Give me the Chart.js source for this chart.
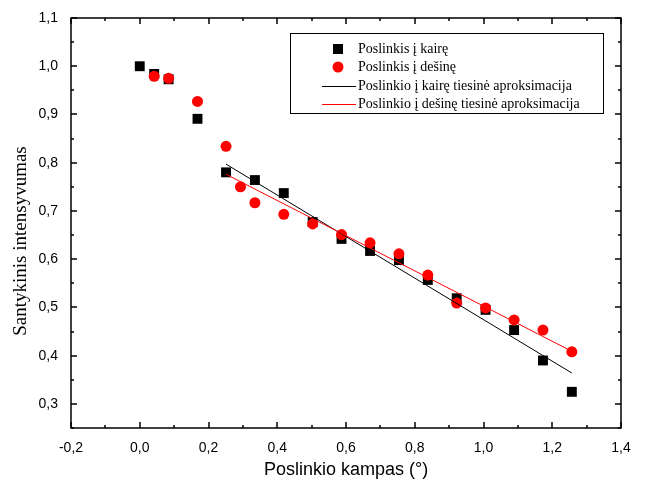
<!DOCTYPE html>
<html>
<head>
<meta charset="utf-8">
<script src="https://cdn.jsdelivr.net/npm/chart.js@4.4.1/dist/chart.umd.min.js"></script>
<style>
  html, body { margin: 0; padding: 0; background: #fff; }
</style>
</head>
<body>
<canvas id="chart" width="646" height="485"></canvas>
<script>
// values
const leftX = [0, 0.042, 0.084, 0.168, 0.251, 0.335, 0.419, 0.503, 0.587, 0.670, 0.754, 0.838, 0.922, 1.006, 1.089, 1.173, 1.257];
const leftY = [1.0, 0.984, 0.973, 0.891, 0.780, 0.764, 0.737, 0.677, 0.642, 0.617, 0.598, 0.557, 0.519, 0.495, 0.453, 0.390, 0.325];
const rightX = [0.042, 0.084, 0.168, 0.251, 0.293, 0.335, 0.419, 0.503, 0.587, 0.670, 0.754, 0.838, 0.922, 1.006, 1.089, 1.173, 1.257];
const rightY = [0.979, 0.975, 0.927, 0.834, 0.750, 0.717, 0.693, 0.673, 0.651, 0.634, 0.611, 0.567, 0.509, 0.499, 0.474, 0.453, 0.408];
const fitX = [0.251, 1.257];
const fitLeftY = [0.797, 0.364];
const fitRightY = [0.776, 0.409];

const xTicks = [-0.2, 0.0, 0.2, 0.4, 0.6, 0.8, 1.0, 1.2, 1.4];
const yTicks = [0.3, 0.4, 0.5, 0.6, 0.7, 0.8, 0.9, 1.0, 1.1];

const labels = [
  "Poslinkis į kairę",
  "Poslinkis į dešinę",
  "Poslinkio į kairę tiesinė aproksimacija",
  "Poslinkio į dešinę tiesinė aproksimacija"
];

const toPts = (xs, ys) => xs.map((x, i) => ({ x: x, y: ys[i] }));
const comma = (v) => v.toFixed(1).replace(".", ",");

// box round the plot with inward ticks, like Origin does
const frameTicks = {
  id: "frameTicks",
  afterDraw(chart) {
    const ctx = chart.ctx;
    const a = chart.chartArea;
    const xs = chart.scales.x, ys = chart.scales.y;
    ctx.save();
    ctx.strokeStyle = "#000";
    ctx.lineWidth = 1.5;
    ctx.strokeRect(a.left, a.top, a.right - a.left, a.bottom - a.top);
    ctx.beginPath();
    for (let i = 0; i < xTicks.length; i++) {
      let px = Math.round(xs.getPixelForValue(xTicks[i]));
      ctx.moveTo(px, a.bottom); ctx.lineTo(px, a.bottom - 6);
      ctx.moveTo(px, a.top); ctx.lineTo(px, a.top + 6);
      if (i < xTicks.length - 1) {
        let m = Math.round(xs.getPixelForValue((xTicks[i] + xTicks[i + 1]) / 2));
        ctx.moveTo(m, a.bottom); ctx.lineTo(m, a.bottom - 3);
        ctx.moveTo(m, a.top); ctx.lineTo(m, a.top + 3);
      }
    }
    const yMinor = [0.25].concat(yTicks.slice(0, -1).map((v, i) => (v + yTicks[i + 1]) / 2));
    for (const v of yTicks) {
      let py = Math.round(ys.getPixelForValue(v));
      ctx.moveTo(a.left, py); ctx.lineTo(a.left + 6, py);
      ctx.moveTo(a.right, py); ctx.lineTo(a.right - 6, py);
    }
    for (const v of yMinor) {
      let py = Math.round(ys.getPixelForValue(v));
      ctx.moveTo(a.left, py); ctx.lineTo(a.left + 3, py);
      ctx.moveTo(a.right, py); ctx.lineTo(a.right - 3, py);
    }
    ctx.stroke();

    // y title (sits a bit below the middle in the original)
    ctx.save();
    ctx.translate(21, 241);
    ctx.rotate(-Math.PI / 2);
    ctx.fillStyle = "#000";
    ctx.font = '19px "Liberation Serif"';
    ctx.textAlign = "center";
    ctx.textBaseline = "middle";
    ctx.fillText("Santykinis intensyvumas", 0, 0);
    ctx.restore();

    // legend box
    const bx = 290, by = 33, bw = 313, bh = 80;
    ctx.lineWidth = 1;
    ctx.strokeRect(bx + 0.5, by + 0.5, bw, bh);
    ctx.font = '14px "Liberation Serif"';
    ctx.textAlign = "left";
    ctx.textBaseline = "middle";
    const rows = [49, 67, 86, 104];
    const ds = chart.data.datasets;
    ctx.fillStyle = ds[0].backgroundColor;
    ctx.fillRect(333, rows[0] - 5, 10, 10);
    ctx.fillStyle = ds[1].backgroundColor;
    ctx.beginPath(); ctx.arc(338, rows[1], 5.5, 0, Math.PI * 2); ctx.fill();
    ctx.strokeStyle = ds[2].borderColor;
    ctx.beginPath(); ctx.moveTo(322, rows[2] + 0.5); ctx.lineTo(356, rows[2] + 0.5); ctx.stroke();
    ctx.strokeStyle = ds[3].borderColor;
    ctx.beginPath(); ctx.moveTo(322, rows[3] + 0.5); ctx.lineTo(356, rows[3] + 0.5); ctx.stroke();
    ctx.fillStyle = "#000";
    for (let i = 0; i < 4; i++) {
      ctx.fillText(ds[i].label, 358, rows[i]);
    }
    ctx.restore();
  }
};

let chart = new Chart(document.getElementById("chart"), {
  type: "scatter",
  data: {
    datasets: [
      {
        label: labels[0],
        data: toPts(leftX, leftY),
        backgroundColor: "#000000",
        borderWidth: 0,
        pointStyle: "rect",
        pointRadius: 7,
        order: 4 // bottom
      },
      {
        label: labels[1],
        data: toPts(rightX, rightY),
        backgroundColor: "#ff0000",
        borderWidth: 0,
        pointStyle: "circle",
        pointRadius: 5.5,
        order: 3
      },
      {
        label: labels[2],
        type: "line",
        data: toPts(fitX, fitLeftY),
        borderColor: "#000000",
        borderWidth: 1,
        pointRadius: 0,
        order: 2
      },
      {
        label: labels[3],
        type: "line",
        data: toPts(fitX, fitRightY),
        borderColor: "#ff0000",
        borderWidth: 1,
        pointRadius: 0,
        order: 1
      }
    ]
  },
  options: {
    responsive: false,
    animation: false,
    events: [],
    layout: {
      padding: { top: 18, right: 25, bottom: 0, left: 0 }
    },
    plugins: {
      legend: { display: false },
      tooltip: { enabled: false }
    },
    scales: {
      x: {
        type: "linear",
        min: -0.2,
        max: 1.4,
        afterBuildTicks: (s) => { s.ticks = xTicks.map((v) => ({ value: v })); },
        afterFit: (s) => { s.height = 57; },
        grid: { display: false },
        border: { display: false },
        ticks: {
          padding: 4,
          color: "#000",
          font: { family: "Liberation Sans", size: 14 },
          callback: (v) => comma(v)
        },
        title: {
          display: true,
          text: "Poslinkio kampas (°)",
          color: "#000",
          font: { family: "Liberation Sans", size: 18 },
          padding: { top: 0, bottom: 4 }
        }
      },
      y: {
        type: "linear",
        min: 0.25,
        max: 1.1,
        afterBuildTicks: (s) => { s.ticks = yTicks.map((v) => ({ value: v })); },
        afterFit: (s) => { s.width = 71; },
        grid: { display: false },
        border: { display: false },
        ticks: {
          padding: 5,
          color: "#000",
          font: { family: "Liberation Sans", size: 14 },
          callback: (v) => comma(v)
        }
      }
    }
  },
  plugins: [frameTicks]
});
</script>
</body>
</html>
